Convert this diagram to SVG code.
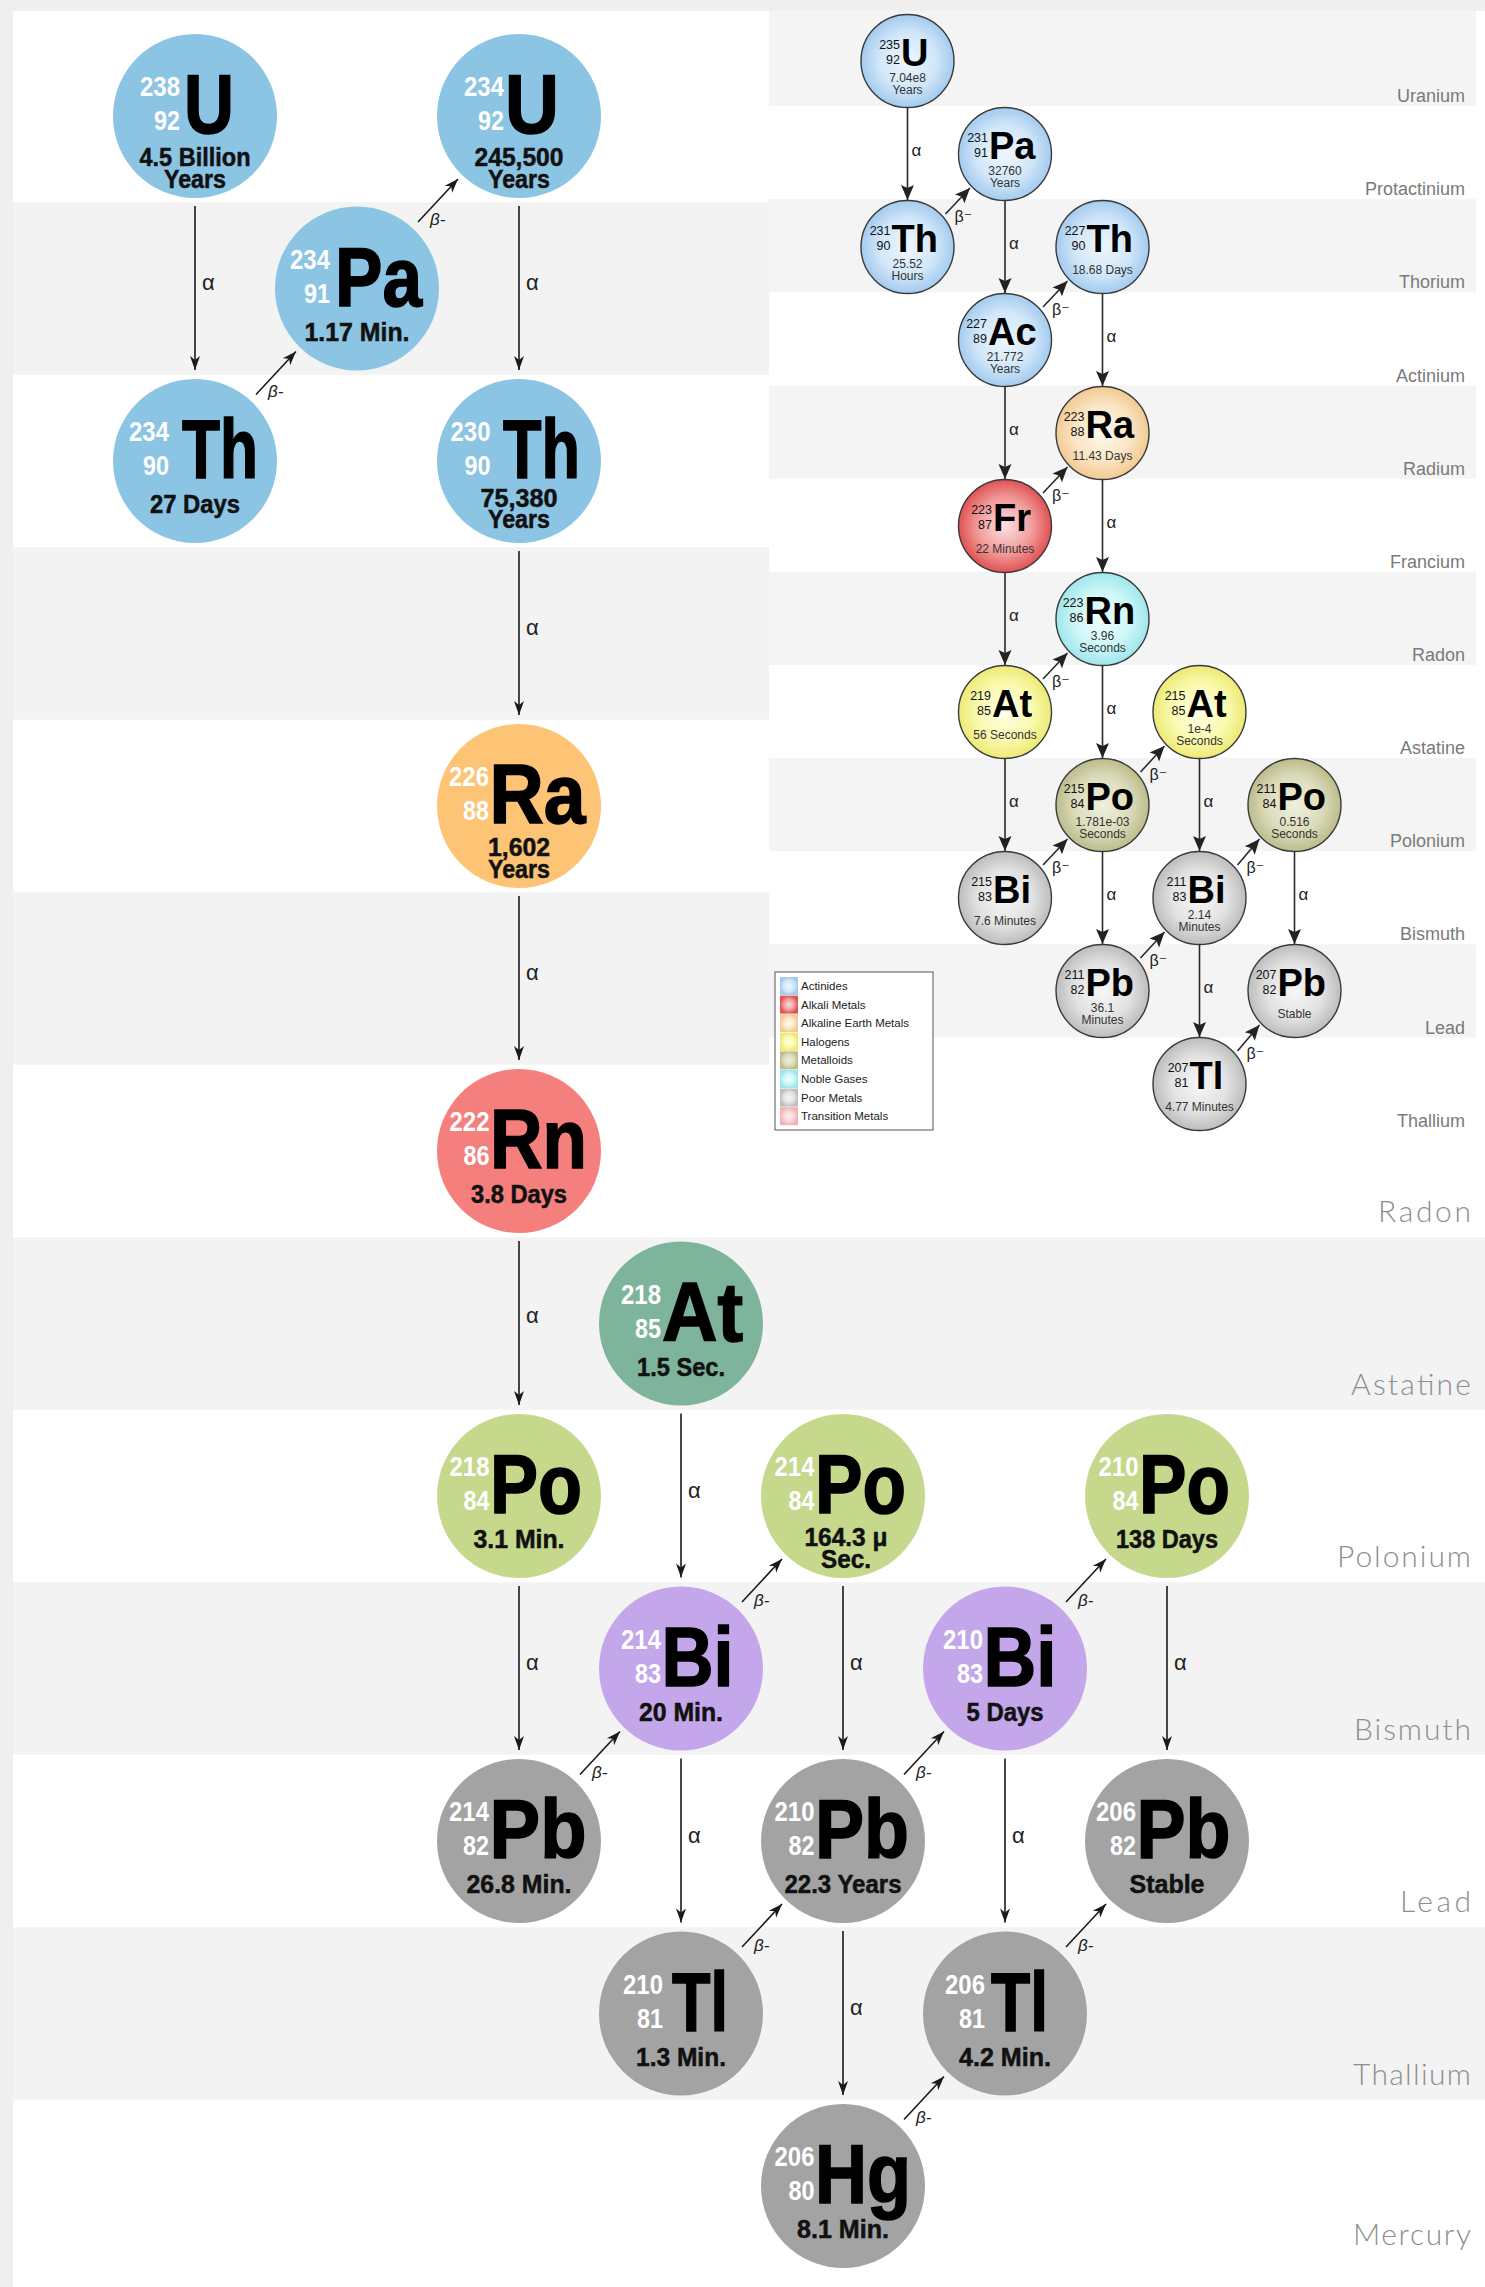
<svg xmlns="http://www.w3.org/2000/svg" width="1485" height="2287" viewBox="0 0 1485 2287">
<defs>
<marker id="ahL" viewBox="-16 -7 17 14" refX="0" refY="0" markerWidth="17" markerHeight="14" markerUnits="userSpaceOnUse" orient="auto"><path d="M0,0 L-14,-5 L-10,0 L-14,5 Z" fill="#1a1a1a"/></marker>
<marker id="ahI" viewBox="-17 -8 18 16" refX="0" refY="0" markerWidth="18" markerHeight="16" markerUnits="userSpaceOnUse" orient="auto"><path d="M0,0 L-15,-6.5 L-12,0 L-15,6.5 Z" fill="#222"/></marker>
<radialGradient id="gA" cx="50%" cy="50%" r="50%"><stop offset="0" stop-color="#eef6fd"/><stop offset="0.6" stop-color="#d2e7f9"/><stop offset="1" stop-color="#a3cbef"/></radialGradient>
<radialGradient id="gK" cx="50%" cy="50%" r="50%"><stop offset="0" stop-color="#fbe0e0"/><stop offset="0.6" stop-color="#f29a9a"/><stop offset="1" stop-color="#e05252"/></radialGradient>
<radialGradient id="gE" cx="50%" cy="50%" r="50%"><stop offset="0" stop-color="#fef8ee"/><stop offset="0.6" stop-color="#fbe5c5"/><stop offset="1" stop-color="#f2ca93"/></radialGradient>
<radialGradient id="gH" cx="50%" cy="50%" r="50%"><stop offset="0" stop-color="#fefee8"/><stop offset="0.6" stop-color="#fbfab0"/><stop offset="1" stop-color="#ecea74"/></radialGradient>
<radialGradient id="gM" cx="50%" cy="50%" r="50%"><stop offset="0" stop-color="#efefdf"/><stop offset="0.6" stop-color="#dcdcbc"/><stop offset="1" stop-color="#bcbc8c"/></radialGradient>
<radialGradient id="gN" cx="50%" cy="50%" r="50%"><stop offset="0" stop-color="#effefe"/><stop offset="0.6" stop-color="#cdf7f8"/><stop offset="1" stop-color="#9fe6ec"/></radialGradient>
<radialGradient id="gP" cx="50%" cy="50%" r="50%"><stop offset="0" stop-color="#f7f7f7"/><stop offset="0.6" stop-color="#e2e2e2"/><stop offset="1" stop-color="#bdbdbd"/></radialGradient>
<radialGradient id="gT" cx="50%" cy="50%" r="50%"><stop offset="0" stop-color="#fdf0f0"/><stop offset="0.6" stop-color="#f8d3d3"/><stop offset="1" stop-color="#f0b3b3"/></radialGradient>
</defs>
<style>
.bandL{fill:#f3f3f3}
.bandI{fill:#f4f4f4}
.lbl{font-family:Lato,"Liberation Sans",sans-serif;font-weight:300;font-size:30px;fill:#8e8e8e;text-anchor:end}
.ilbl{font-family:"Liberation Sans",Arial,sans-serif;font-size:18px;fill:#7a7a7a;text-anchor:end}
.sym{font-family:"Liberation Sans",Arial,sans-serif;font-weight:bold;font-size:84px;fill:#000;stroke:#000;stroke-width:1.6}
.num{font-family:"Liberation Sans",Arial,sans-serif;font-weight:bold;font-size:27px;fill:#fff;text-anchor:end}
.hl{font-family:"Liberation Sans",Arial,sans-serif;font-weight:bold;font-size:25px;fill:#111;stroke:#111;stroke-width:0.5;text-anchor:middle}
.eL line{stroke:#1a1a1a;stroke-width:1.6}
.eI line{stroke:#2a2a2a;stroke-width:1.6}
.alpha{font-family:"Liberation Sans",Arial,sans-serif;font-size:22px;fill:#222}
.beta{font-family:"Liberation Sans",Arial,sans-serif;font-style:italic;font-size:17px;fill:#222}
.ic{stroke:#3a3a3a;stroke-width:1.4}
.isym{font-family:"Liberation Sans",Arial,sans-serif;font-weight:bold;font-size:38px;fill:#000}
.inum{font-family:"Liberation Sans",Arial,sans-serif;font-size:12.5px;fill:#111;text-anchor:end}
.ihl{font-family:"Liberation Sans",Arial,sans-serif;font-size:12px;fill:#333;text-anchor:middle}
.ia{font-family:"Liberation Sans",Arial,sans-serif;font-size:17px;fill:#222}
.ib{font-family:"Liberation Sans","DejaVu Sans",sans-serif;font-size:16px;fill:#222}
.leg{font-family:"Liberation Sans",Arial,sans-serif;font-size:11.5px;fill:#222}
</style>

<!-- page background and bands -->
<rect x="0" y="0" width="1485" height="2287" fill="#f0efed"/>
<rect x="13" y="11" width="1472" height="2276" fill="#ffffff"/>
<g id="bands-main">
<rect class="bandL" x="13" y="202.25" width="1472" height="172.5"/>
<rect class="bandL" x="13" y="547.25" width="1472" height="172.5"/>
<rect class="bandL" x="13" y="892.25" width="1472" height="172.5"/>
<rect class="bandL" x="13" y="1237.25" width="1472" height="172.5"/>
<rect class="bandL" x="13" y="1582.25" width="1472" height="172.5"/>
<rect class="bandL" x="13" y="1927.25" width="1472" height="172.5"/>
<text class="lbl" x="1471" y="1222" textLength="93" lengthAdjust="spacing">Radon</text>
<text class="lbl" x="1471" y="1395" textLength="120" lengthAdjust="spacing">Astatine</text>
<text class="lbl" x="1471" y="1567" textLength="134" lengthAdjust="spacing">Polonium</text>
<text class="lbl" x="1471" y="1740" textLength="117" lengthAdjust="spacing">Bismuth</text>
<text class="lbl" x="1471" y="1912" textLength="71" lengthAdjust="spacing">Lead</text>
<text class="lbl" x="1471" y="2085" textLength="118" lengthAdjust="spacing">Thallium</text>
<text class="lbl" x="1471" y="2245" textLength="118" lengthAdjust="spacing">Mercury</text>
</g>

<!-- inset background and bands -->
<g id="bands-inset">
<rect x="769" y="11" width="716" height="1120" fill="#ffffff"/>
<rect class="bandI" x="769" y="11" width="707" height="95"/>
<rect class="bandI" x="769" y="199.15" width="707" height="93.15"/>
<rect class="bandI" x="769" y="385.45" width="707" height="93.15"/>
<rect class="bandI" x="769" y="571.75" width="707" height="93.15"/>
<rect class="bandI" x="769" y="758.05" width="707" height="93.15"/>
<rect class="bandI" x="769" y="944.35" width="707" height="93.15"/>
<text class="ilbl" x="1465" y="102">Uranium</text>
<text class="ilbl" x="1465" y="195">Protactinium</text>
<text class="ilbl" x="1465" y="288.3">Thorium</text>
<text class="ilbl" x="1465" y="381.5">Actinium</text>
<text class="ilbl" x="1465" y="474.6">Radium</text>
<text class="ilbl" x="1465" y="567.8">Francium</text>
<text class="ilbl" x="1465" y="661">Radon</text>
<text class="ilbl" x="1465" y="754">Astatine</text>
<text class="ilbl" x="1465" y="847.2">Polonium</text>
<text class="ilbl" x="1465" y="940.4">Bismuth</text>
<text class="ilbl" x="1465" y="1033.5">Lead</text>
<text class="ilbl" x="1465" y="1126.7">Thallium</text>
</g>

<!-- main chain connectors -->
<g id="edges-main" class="eL">
<line x1="195" y1="206" x2="195" y2="370" marker-end="url(#ahL)"/><text class="alpha" x="202" y="290">α</text>
<line x1="519" y1="206" x2="519" y2="370" marker-end="url(#ahL)"/><text class="alpha" x="526" y="290">α</text>
<line x1="519" y1="551" x2="519" y2="715" marker-end="url(#ahL)"/><text class="alpha" x="526" y="635">α</text>
<line x1="519" y1="896" x2="519" y2="1060" marker-end="url(#ahL)"/><text class="alpha" x="526" y="980">α</text>
<line x1="519" y1="1241" x2="519" y2="1405" marker-end="url(#ahL)"/><text class="alpha" x="526" y="1323">α</text>
<line x1="681" y1="1413.5" x2="681" y2="1577.5" marker-end="url(#ahL)"/><text class="alpha" x="688" y="1497.5">α</text>
<line x1="519" y1="1586" x2="519" y2="1750" marker-end="url(#ahL)"/><text class="alpha" x="526" y="1670">α</text>
<line x1="843" y1="1586" x2="843" y2="1750" marker-end="url(#ahL)"/><text class="alpha" x="850" y="1670">α</text>
<line x1="1167" y1="1586" x2="1167" y2="1750" marker-end="url(#ahL)"/><text class="alpha" x="1174" y="1670">α</text>
<line x1="681" y1="1758.5" x2="681" y2="1922.5" marker-end="url(#ahL)"/><text class="alpha" x="688" y="1842.5">α</text>
<line x1="1005" y1="1758.5" x2="1005" y2="1922.5" marker-end="url(#ahL)"/><text class="alpha" x="1012" y="1842.5">α</text>
<line x1="843" y1="1931" x2="843" y2="2095" marker-end="url(#ahL)"/><text class="alpha" x="850" y="2015">α</text>
<line x1="256" y1="394.5" x2="296" y2="351.5" marker-end="url(#ahL)"/><text class="beta" x="268" y="397">β-</text>
<line x1="418" y1="222" x2="458" y2="179" marker-end="url(#ahL)"/><text class="beta" x="430" y="224.5">β-</text>
<line x1="742" y1="1602" x2="782" y2="1559" marker-end="url(#ahL)"/><text class="beta" x="754" y="1605.5">β-</text>
<line x1="1066" y1="1602" x2="1106" y2="1559" marker-end="url(#ahL)"/><text class="beta" x="1078" y="1605.5">β-</text>
<line x1="580" y1="1774.5" x2="620" y2="1731.5" marker-end="url(#ahL)"/><text class="beta" x="592" y="1778">β-</text>
<line x1="904" y1="1774.5" x2="944" y2="1731.5" marker-end="url(#ahL)"/><text class="beta" x="916" y="1778">β-</text>
<line x1="742" y1="1947" x2="782" y2="1904" marker-end="url(#ahL)"/><text class="beta" x="754" y="1950.5">β-</text>
<line x1="1066" y1="1947" x2="1106" y2="1904" marker-end="url(#ahL)"/><text class="beta" x="1078" y="1950.5">β-</text>
<line x1="904" y1="2119.5" x2="944" y2="2076.5" marker-end="url(#ahL)"/><text class="beta" x="916" y="2123">β-</text>
</g>

<!-- main chain nodes -->
<g id="U238"><circle cx="195" cy="116" r="82" fill="#8cc4e4"/>
<text class="num" x="180" y="96" textLength="40" lengthAdjust="spacingAndGlyphs">238</text>
<text class="num" x="180" y="130" textLength="26" lengthAdjust="spacingAndGlyphs">92</text>
<text class="sym" x="184" y="133" textLength="50" lengthAdjust="spacingAndGlyphs">U</text>
<text class="hl" x="195" y="166" textLength="111" lengthAdjust="spacingAndGlyphs">4.5 Billion</text>
<text class="hl" x="195" y="188" textLength="62" lengthAdjust="spacingAndGlyphs">Years</text></g>

<g id="Pa234"><circle cx="357" cy="288.5" r="82" fill="#8cc4e4"/>
<text class="num" x="330" y="268.5" textLength="40" lengthAdjust="spacingAndGlyphs">234</text>
<text class="num" x="330" y="302.5" textLength="26" lengthAdjust="spacingAndGlyphs">91</text>
<text class="sym" x="335" y="305.5" textLength="87" lengthAdjust="spacingAndGlyphs">Pa</text>
<text class="hl" x="357" y="340.5" textLength="105" lengthAdjust="spacingAndGlyphs">1.17 Min.</text></g>

<g id="U234"><circle cx="519" cy="116" r="82" fill="#8cc4e4"/>
<text class="num" x="504" y="96" textLength="40" lengthAdjust="spacingAndGlyphs">234</text>
<text class="num" x="504" y="130" textLength="26" lengthAdjust="spacingAndGlyphs">92</text>
<text class="sym" x="505" y="133" textLength="54" lengthAdjust="spacingAndGlyphs">U</text>
<text class="hl" x="519" y="166" textLength="89" lengthAdjust="spacingAndGlyphs">245,500</text>
<text class="hl" x="519" y="188" textLength="62" lengthAdjust="spacingAndGlyphs">Years</text></g>

<g id="Th234"><circle cx="195" cy="461" r="82" fill="#8cc4e4"/>
<text class="num" x="169" y="441" textLength="40" lengthAdjust="spacingAndGlyphs">234</text>
<text class="num" x="169" y="475" textLength="26" lengthAdjust="spacingAndGlyphs">90</text>
<text class="sym" x="182" y="478" textLength="76" lengthAdjust="spacingAndGlyphs">Th</text>
<text class="hl" x="195" y="513" textLength="90" lengthAdjust="spacingAndGlyphs">27 Days</text></g>

<g id="Th230"><circle cx="519" cy="461" r="82" fill="#8cc4e4"/>
<text class="num" x="490.5" y="441" textLength="40" lengthAdjust="spacingAndGlyphs">230</text>
<text class="num" x="490.5" y="475" textLength="26" lengthAdjust="spacingAndGlyphs">90</text>
<text class="sym" x="503" y="478" textLength="77" lengthAdjust="spacingAndGlyphs">Th</text>
<text class="hl" x="519" y="507" textLength="77" lengthAdjust="spacingAndGlyphs">75,380</text>
<text class="hl" x="519" y="528" textLength="62" lengthAdjust="spacingAndGlyphs">Years</text></g>

<g id="Ra226"><circle cx="519" cy="806" r="82" fill="#fcc474"/>
<text class="num" x="489" y="786" textLength="40" lengthAdjust="spacingAndGlyphs">226</text>
<text class="num" x="489" y="820" textLength="26" lengthAdjust="spacingAndGlyphs">88</text>
<text class="sym" x="489.5" y="823" textLength="96" lengthAdjust="spacingAndGlyphs">Ra</text>
<text class="hl" x="519" y="856" textLength="62" lengthAdjust="spacingAndGlyphs">1,602</text>
<text class="hl" x="519" y="878" textLength="62" lengthAdjust="spacingAndGlyphs">Years</text></g>

<g id="Rn222"><circle cx="519" cy="1151" r="82" fill="#f57f7d"/>
<text class="num" x="489.5" y="1131" textLength="40" lengthAdjust="spacingAndGlyphs">222</text>
<text class="num" x="489.5" y="1165" textLength="26" lengthAdjust="spacingAndGlyphs">86</text>
<text class="sym" x="490" y="1168" textLength="97" lengthAdjust="spacingAndGlyphs">Rn</text>
<text class="hl" x="519" y="1203" textLength="96" lengthAdjust="spacingAndGlyphs">3.8 Days</text></g>

<g id="At218"><circle cx="681" cy="1323.5" r="82" fill="#7eb49b"/>
<text class="num" x="661" y="1303.5" textLength="40" lengthAdjust="spacingAndGlyphs">218</text>
<text class="num" x="661" y="1337.5" textLength="26" lengthAdjust="spacingAndGlyphs">85</text>
<text class="sym" x="662" y="1340.5" textLength="81" lengthAdjust="spacingAndGlyphs">At</text>
<text class="hl" x="681" y="1375.5" textLength="88" lengthAdjust="spacingAndGlyphs">1.5 Sec.</text></g>

<g id="Po218"><circle cx="519" cy="1496" r="82" fill="#c5d88c"/>
<text class="num" x="489.5" y="1476" textLength="40" lengthAdjust="spacingAndGlyphs">218</text>
<text class="num" x="489.5" y="1510" textLength="26" lengthAdjust="spacingAndGlyphs">84</text>
<text class="sym" x="490" y="1513" textLength="92" lengthAdjust="spacingAndGlyphs">Po</text>
<text class="hl" x="519" y="1548" textLength="91" lengthAdjust="spacingAndGlyphs">3.1 Min.</text></g>

<g id="Po214"><circle cx="843" cy="1496" r="82" fill="#c5d88c"/>
<text class="num" x="814.5" y="1476" textLength="40" lengthAdjust="spacingAndGlyphs">214</text>
<text class="num" x="814.5" y="1510" textLength="26" lengthAdjust="spacingAndGlyphs">84</text>
<text class="sym" x="815" y="1513" textLength="91" lengthAdjust="spacingAndGlyphs">Po</text>
<text class="hl" x="846" y="1546" textLength="83" lengthAdjust="spacingAndGlyphs">164.3 μ</text>
<text class="hl" x="846" y="1568" textLength="50" lengthAdjust="spacingAndGlyphs">Sec.</text></g>

<g id="Po210"><circle cx="1167" cy="1496" r="82" fill="#c5d88c"/>
<text class="num" x="1138.5" y="1476" textLength="40" lengthAdjust="spacingAndGlyphs">210</text>
<text class="num" x="1138.5" y="1510" textLength="26" lengthAdjust="spacingAndGlyphs">84</text>
<text class="sym" x="1139" y="1513" textLength="91" lengthAdjust="spacingAndGlyphs">Po</text>
<text class="hl" x="1167" y="1548" textLength="102" lengthAdjust="spacingAndGlyphs">138 Days</text></g>

<g id="Bi214"><circle cx="681" cy="1668.5" r="82" fill="#c3a7ea"/>
<text class="num" x="661" y="1648.5" textLength="40" lengthAdjust="spacingAndGlyphs">214</text>
<text class="num" x="661" y="1682.5" textLength="26" lengthAdjust="spacingAndGlyphs">83</text>
<text class="sym" x="661.5" y="1685.5" textLength="72" lengthAdjust="spacingAndGlyphs">Bi</text>
<text class="hl" x="681" y="1720.5" textLength="84" lengthAdjust="spacingAndGlyphs">20 Min.</text></g>

<g id="Bi210"><circle cx="1005" cy="1668.5" r="82" fill="#c3a7ea"/>
<text class="num" x="983" y="1648.5" textLength="40" lengthAdjust="spacingAndGlyphs">210</text>
<text class="num" x="983" y="1682.5" textLength="26" lengthAdjust="spacingAndGlyphs">83</text>
<text class="sym" x="983.5" y="1685.5" textLength="73" lengthAdjust="spacingAndGlyphs">Bi</text>
<text class="hl" x="1005" y="1720.5" textLength="77" lengthAdjust="spacingAndGlyphs">5 Days</text></g>

<g id="Pb214"><circle cx="519" cy="1841" r="82" fill="#a3a3a3"/>
<text class="num" x="489" y="1821" textLength="40" lengthAdjust="spacingAndGlyphs">214</text>
<text class="num" x="489" y="1855" textLength="26" lengthAdjust="spacingAndGlyphs">82</text>
<text class="sym" x="489.5" y="1858" textLength="97" lengthAdjust="spacingAndGlyphs">Pb</text>
<text class="hl" x="519" y="1893" textLength="105" lengthAdjust="spacingAndGlyphs">26.8 Min.</text></g>

<g id="Pb210"><circle cx="843" cy="1841" r="82" fill="#a3a3a3"/>
<text class="num" x="814.5" y="1821" textLength="40" lengthAdjust="spacingAndGlyphs">210</text>
<text class="num" x="814.5" y="1855" textLength="26" lengthAdjust="spacingAndGlyphs">82</text>
<text class="sym" x="815" y="1858" textLength="94" lengthAdjust="spacingAndGlyphs">Pb</text>
<text class="hl" x="843" y="1893" textLength="117" lengthAdjust="spacingAndGlyphs">22.3 Years</text></g>

<g id="Pb206"><circle cx="1167" cy="1841" r="82" fill="#a3a3a3"/>
<text class="num" x="1136" y="1821" textLength="40" lengthAdjust="spacingAndGlyphs">206</text>
<text class="num" x="1136" y="1855" textLength="26" lengthAdjust="spacingAndGlyphs">82</text>
<text class="sym" x="1136.5" y="1858" textLength="94" lengthAdjust="spacingAndGlyphs">Pb</text>
<text class="hl" x="1167" y="1893" textLength="75" lengthAdjust="spacingAndGlyphs">Stable</text></g>

<g id="Tl210"><circle cx="681" cy="2013.5" r="82" fill="#a3a3a3"/>
<text class="num" x="663" y="1993.5" textLength="40" lengthAdjust="spacingAndGlyphs">210</text>
<text class="num" x="663" y="2027.5" textLength="26" lengthAdjust="spacingAndGlyphs">81</text>
<text class="sym" x="672" y="2030.5" textLength="56" lengthAdjust="spacingAndGlyphs">Tl</text>
<text class="hl" x="681" y="2065.5" textLength="90" lengthAdjust="spacingAndGlyphs">1.3 Min.</text></g>

<g id="Tl206"><circle cx="1005" cy="2013.5" r="82" fill="#a3a3a3"/>
<text class="num" x="985" y="1993.5" textLength="40" lengthAdjust="spacingAndGlyphs">206</text>
<text class="num" x="985" y="2027.5" textLength="26" lengthAdjust="spacingAndGlyphs">81</text>
<text class="sym" x="991" y="2030.5" textLength="57" lengthAdjust="spacingAndGlyphs">Tl</text>
<text class="hl" x="1005" y="2065.5" textLength="92" lengthAdjust="spacingAndGlyphs">4.2 Min.</text></g>

<g id="Hg206"><circle cx="843" cy="2186" r="82" fill="#a3a3a3"/>
<text class="num" x="814.5" y="2166" textLength="40" lengthAdjust="spacingAndGlyphs">206</text>
<text class="num" x="814.5" y="2200" textLength="26" lengthAdjust="spacingAndGlyphs">80</text>
<text class="sym" x="815" y="2203" textLength="96" lengthAdjust="spacingAndGlyphs">Hg</text>
<text class="hl" x="843" y="2238" textLength="92" lengthAdjust="spacingAndGlyphs">8.1 Min.</text></g>

<!-- inset connectors -->
<g id="edges-inset" class="eI">
<line x1="907.5" y1="108" x2="907.5" y2="200" marker-end="url(#ahI)"/><text class="ia" x="911.5" y="156">α</text>
<line x1="1005" y1="201" x2="1005" y2="293" marker-end="url(#ahI)"/><text class="ia" x="1009" y="249">α</text>
<line x1="1102.5" y1="294" x2="1102.5" y2="386" marker-end="url(#ahI)"/><text class="ia" x="1106.5" y="342">α</text>
<line x1="1005" y1="387" x2="1005" y2="479" marker-end="url(#ahI)"/><text class="ia" x="1009" y="435">α</text>
<line x1="1102.5" y1="480" x2="1102.5" y2="572" marker-end="url(#ahI)"/><text class="ia" x="1106.5" y="528">α</text>
<line x1="1005" y1="573" x2="1005" y2="665" marker-end="url(#ahI)"/><text class="ia" x="1009" y="621">α</text>
<line x1="1102.5" y1="666" x2="1102.5" y2="758" marker-end="url(#ahI)"/><text class="ia" x="1106.5" y="714">α</text>
<line x1="1005" y1="759" x2="1005" y2="851" marker-end="url(#ahI)"/><text class="ia" x="1009" y="807">α</text>
<line x1="1199.5" y1="759" x2="1199.5" y2="851" marker-end="url(#ahI)"/><text class="ia" x="1203.5" y="807">α</text>
<line x1="1102.5" y1="852" x2="1102.5" y2="944" marker-end="url(#ahI)"/><text class="ia" x="1106.5" y="900">α</text>
<line x1="1294.5" y1="852" x2="1294.5" y2="944" marker-end="url(#ahI)"/><text class="ia" x="1298.5" y="900">α</text>
<line x1="1199.5" y1="945" x2="1199.5" y2="1037" marker-end="url(#ahI)"/><text class="ia" x="1203.5" y="993">α</text>
<line x1="945.5" y1="214" x2="970" y2="188" marker-end="url(#ahI)"/><text class="ib" x="954.5" y="222">β⁻</text>
<line x1="1043" y1="307" x2="1067.5" y2="281" marker-end="url(#ahI)"/><text class="ib" x="1052" y="315">β⁻</text>
<line x1="1043" y1="493" x2="1067.5" y2="467" marker-end="url(#ahI)"/><text class="ib" x="1052" y="501">β⁻</text>
<line x1="1043" y1="679" x2="1067.5" y2="653" marker-end="url(#ahI)"/><text class="ib" x="1052" y="687">β⁻</text>
<line x1="1140.5" y1="772" x2="1164.5" y2="746" marker-end="url(#ahI)"/><text class="ib" x="1149.5" y="780">β⁻</text>
<line x1="1043" y1="865" x2="1067.5" y2="839" marker-end="url(#ahI)"/><text class="ib" x="1052" y="873">β⁻</text>
<line x1="1140.5" y1="958" x2="1164.5" y2="932" marker-end="url(#ahI)"/><text class="ib" x="1149.5" y="966">β⁻</text>
<line x1="1237.5" y1="865" x2="1259.5" y2="839" marker-end="url(#ahI)"/><text class="ib" x="1246.5" y="873">β⁻</text>
<line x1="1237.5" y1="1051" x2="1259.5" y2="1025" marker-end="url(#ahI)"/><text class="ib" x="1246.5" y="1059">β⁻</text>
</g>

<!-- inset nodes -->
<g id="U235"><circle class="ic" cx="907.5" cy="61" r="46.5" fill="url(#gA)"/>
<text class="inum" x="900" y="49">235</text><text class="inum" x="900" y="64">92</text>
<text class="isym" x="901" y="66">U</text>
<text class="ihl" x="907.5" y="82">7.04e8</text><text class="ihl" x="907.5" y="94">Years</text></g>

<g id="Pa231"><circle class="ic" cx="1005" cy="154" r="46.5" fill="url(#gA)"/>
<text class="inum" x="988" y="142">231</text><text class="inum" x="988" y="157">91</text>
<text class="isym" x="989" y="159">Pa</text>
<text class="ihl" x="1005" y="175">32760</text><text class="ihl" x="1005" y="187">Years</text></g>

<g id="Th231"><circle class="ic" cx="907.5" cy="247" r="46.5" fill="url(#gA)"/>
<text class="inum" x="890.5" y="235">231</text><text class="inum" x="890.5" y="250">90</text>
<text class="isym" x="891.5" y="252">Th</text>
<text class="ihl" x="907.5" y="268">25.52</text><text class="ihl" x="907.5" y="280">Hours</text></g>

<g id="Th227"><circle class="ic" cx="1102.5" cy="247" r="46.5" fill="url(#gA)"/>
<text class="inum" x="1085.5" y="235">227</text><text class="inum" x="1085.5" y="250">90</text>
<text class="isym" x="1086.5" y="252">Th</text>
<text class="ihl" x="1102.5" y="273.5">18.68 Days</text></g>

<g id="Ac227"><circle class="ic" cx="1005" cy="340" r="46.5" fill="url(#gA)"/>
<text class="inum" x="987" y="328">227</text><text class="inum" x="987" y="343">89</text>
<text class="isym" x="988" y="345">Ac</text>
<text class="ihl" x="1005" y="361">21.772</text><text class="ihl" x="1005" y="373">Years</text></g>

<g id="Ra223"><circle class="ic" cx="1102.5" cy="433" r="46.5" fill="url(#gE)"/>
<text class="inum" x="1084.5" y="421">223</text><text class="inum" x="1084.5" y="436">88</text>
<text class="isym" x="1085.5" y="438">Ra</text>
<text class="ihl" x="1102.5" y="459.5">11.43 Days</text></g>

<g id="Fr223"><circle class="ic" cx="1005" cy="526" r="46.5" fill="url(#gK)"/>
<text class="inum" x="992" y="514">223</text><text class="inum" x="992" y="529">87</text>
<text class="isym" x="993" y="531">Fr</text>
<text class="ihl" x="1005" y="552.5">22 Minutes</text></g>

<g id="Rn223"><circle class="ic" cx="1102.5" cy="619" r="46.5" fill="url(#gN)"/>
<text class="inum" x="1083.5" y="607">223</text><text class="inum" x="1083.5" y="622">86</text>
<text class="isym" x="1084.5" y="624">Rn</text>
<text class="ihl" x="1102.5" y="640">3.96</text><text class="ihl" x="1102.5" y="652">Seconds</text></g>

<g id="At219"><circle class="ic" cx="1005" cy="712" r="46.5" fill="url(#gH)"/>
<text class="inum" x="991" y="700">219</text><text class="inum" x="991" y="715">85</text>
<text class="isym" x="992" y="717">At</text>
<text class="ihl" x="1005" y="738.5">56 Seconds</text></g>

<g id="At215"><circle class="ic" cx="1199.5" cy="712" r="46.5" fill="url(#gH)"/>
<text class="inum" x="1185.5" y="700">215</text><text class="inum" x="1185.5" y="715">85</text>
<text class="isym" x="1186.5" y="717">At</text>
<text class="ihl" x="1199.5" y="733">1e-4</text><text class="ihl" x="1199.5" y="745">Seconds</text></g>

<g id="Po215"><circle class="ic" cx="1102.5" cy="805" r="46.5" fill="url(#gM)"/>
<text class="inum" x="1084.5" y="793">215</text><text class="inum" x="1084.5" y="808">84</text>
<text class="isym" x="1085.5" y="810">Po</text>
<text class="ihl" x="1102.5" y="826">1.781e-03</text><text class="ihl" x="1102.5" y="838">Seconds</text></g>

<g id="Po211"><circle class="ic" cx="1294.5" cy="805" r="46.5" fill="url(#gM)"/>
<text class="inum" x="1276.5" y="793">211</text><text class="inum" x="1276.5" y="808">84</text>
<text class="isym" x="1277.5" y="810">Po</text>
<text class="ihl" x="1294.5" y="826">0.516</text><text class="ihl" x="1294.5" y="838">Seconds</text></g>

<g id="Bi215"><circle class="ic" cx="1005" cy="898" r="46.5" fill="url(#gP)"/>
<text class="inum" x="992" y="886">215</text><text class="inum" x="992" y="901">83</text>
<text class="isym" x="993" y="903">Bi</text>
<text class="ihl" x="1005" y="924.5">7.6 Minutes</text></g>

<g id="Bi211"><circle class="ic" cx="1199.5" cy="898" r="46.5" fill="url(#gP)"/>
<text class="inum" x="1186.5" y="886">211</text><text class="inum" x="1186.5" y="901">83</text>
<text class="isym" x="1187.5" y="903">Bi</text>
<text class="ihl" x="1199.5" y="919">2.14</text><text class="ihl" x="1199.5" y="931">Minutes</text></g>

<g id="Pb211"><circle class="ic" cx="1102.5" cy="991" r="46.5" fill="url(#gP)"/>
<text class="inum" x="1084.5" y="979">211</text><text class="inum" x="1084.5" y="994">82</text>
<text class="isym" x="1085.5" y="996">Pb</text>
<text class="ihl" x="1102.5" y="1012">36.1</text><text class="ihl" x="1102.5" y="1024">Minutes</text></g>

<g id="Pb207"><circle class="ic" cx="1294.5" cy="991" r="46.5" fill="url(#gP)"/>
<text class="inum" x="1276.5" y="979">207</text><text class="inum" x="1276.5" y="994">82</text>
<text class="isym" x="1277.5" y="996">Pb</text>
<text class="ihl" x="1294.5" y="1017.5">Stable</text></g>

<g id="Tl207"><circle class="ic" cx="1199.5" cy="1084" r="46.5" fill="url(#gP)"/>
<text class="inum" x="1188.5" y="1072">207</text><text class="inum" x="1188.5" y="1087">81</text>
<text class="isym" x="1189.5" y="1089">Tl</text>
<text class="ihl" x="1199.5" y="1110.5">4.77 Minutes</text></g>

<!-- legend -->
<g id="legend">
<rect x="775" y="972" width="158" height="158" fill="#ffffff" stroke="#555" stroke-width="1"/>
<rect x="780" y="977" width="18" height="18" fill="url(#gA)"/><text class="leg" x="801" y="990">Actinides</text>
<rect x="780" y="995.6" width="18" height="18" fill="url(#gK)"/><text class="leg" x="801" y="1008.6">Alkali Metals</text>
<rect x="780" y="1014.2" width="18" height="18" fill="url(#gE)"/><text class="leg" x="801" y="1027.2">Alkaline Earth Metals</text>
<rect x="780" y="1032.8" width="18" height="18" fill="url(#gH)"/><text class="leg" x="801" y="1045.8">Halogens</text>
<rect x="780" y="1051.4" width="18" height="18" fill="url(#gM)"/><text class="leg" x="801" y="1064.4">Metalloids</text>
<rect x="780" y="1070" width="18" height="18" fill="url(#gN)"/><text class="leg" x="801" y="1083">Noble Gases</text>
<rect x="780" y="1088.6" width="18" height="18" fill="url(#gP)"/><text class="leg" x="801" y="1101.6">Poor Metals</text>
<rect x="780" y="1107.2" width="18" height="18" fill="url(#gT)"/><text class="leg" x="801" y="1120.2">Transition Metals</text>
</g>
</svg>
